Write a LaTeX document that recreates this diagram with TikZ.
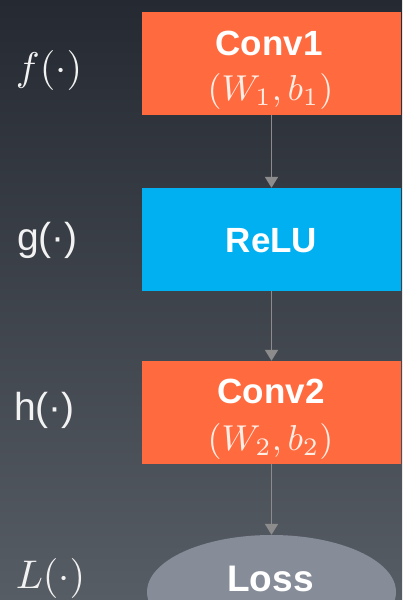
\documentclass[tikz,border=0pt]{standalone}
\usepackage{graphicx}
\usepackage{fontspec}
\setsansfont{Liberation Sans}
\usetikzlibrary{arrows.meta,shapes.geometric}
\definecolor{bgtop}{HTML}{252A32}
\definecolor{bgmid}{HTML}{2E333A}
\definecolor{bgbot}{HTML}{575D65}
\definecolor{orng}{HTML}{FF6B3F}
\definecolor{skyb}{HTML}{00B0F0}
\definecolor{lossg}{HTML}{868C98}
\definecolor{pinkt}{HTML}{FFEEE6}
\definecolor{arrg}{HTML}{8C8C8C}
\definecolor{lblc}{HTML}{F2F2F2}
\newcommand{\scmath}[2]{\scalebox{#1}{$#2$}}
\begin{document}
\begin{tikzpicture}[x=1pt,y=1pt,
  blk/.style={draw=none,minimum width=259pt,minimum height=103pt,inner sep=0pt},
  btxt/.style={text=white,inner sep=0pt,font=\sffamily\bfseries\fontsize{35}{40}\selectfont},
  mtxt/.style={text=pinkt,inner sep=0pt},
  lbl/.style={text=lblc,inner sep=0pt},
  slbl/.style={text=lblc,inner sep=0pt,font=\sffamily\fontsize{39}{44}\selectfont},
  conn/.style={draw=arrg,line width=1.9pt,-{Triangle[width=13pt,length=11pt]}}]
\useasboundingbox (0,0) rectangle (402,-600);
\shade[top color=bgtop,middle color=bgmid,bottom color=bgbot] (0,0) rectangle (402,-600);
\node[blk,fill=orng] (c1) at (271.5,-63.5) {};
\node[btxt] (c1a) at (269,-43.5) {Conv1};
\node[mtxt] (c1b) at (270.5,-91.5) {\scmath{3.6}{(W_1{,}\,b_1)}};
\node[blk,fill=skyb] (relu) at (271.5,-239.5) {};
\node[btxt] (relua) at (271.5,-240.5) {ReLU};
\node[blk,fill=orng] (c2) at (271.5,-412.5) {};
\node[btxt] (c2a) at (271,-391.5) {Conv2};
\node[mtxt] (c2b) at (270.5,-441) {\scmath{3.6}{(W_2{,}\,b_2)}};
\node[ellipse,fill=lossg,minimum width=249pt,minimum height=114pt,inner sep=0pt] (loss) at (271.5,-592) {};
\node[btxt,font=\sffamily\bfseries\fontsize{37}{40}\selectfont] (losst) at (270.5,-578.5) {Loss};
\draw[conn] (c1.south) -- (relu.north);
\draw[conn] (relu.south) -- (c2.north);
\draw[conn] (c2.south) -- (loss.north);
\node[lbl] (lf) at (49,-70) {\scmath{4}{f(\cdot)}};
\node[slbl] (lg) at (47.5,-240) {g(·)};
\node[slbl] (lh) at (44.5,-410) {h(·)};
\node[lbl] (lL) at (50.5,-578.5) {\scmath{4}{L(\cdot)}};
\end{tikzpicture}
\end{document}
